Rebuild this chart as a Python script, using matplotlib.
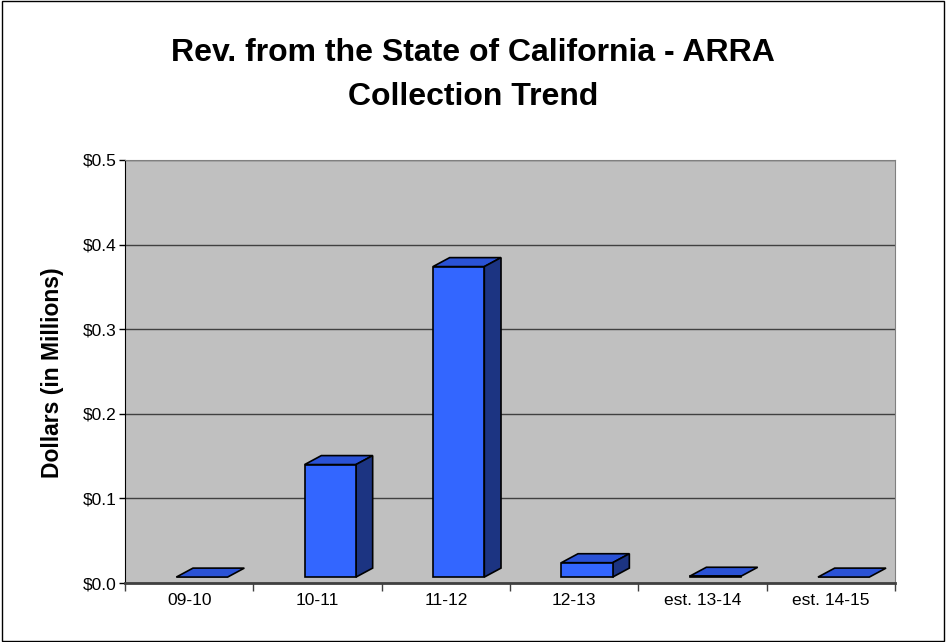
import matplotlib.pyplot as plt
from matplotlib.patches import Polygon, Rectangle
from matplotlib.ticker import FuncFormatter, MultipleLocator

plt.rcParams['font.family'] = ['Liberation Sans', 'DejaVu Sans']

# data (millions of dollars)
categories = ['09-10', '10-11', '11-12', '12-13', 'est. 13-14', 'est. 14-15']
values = [0.0, 0.133, 0.367, 0.017, 0.001, 0.0]

front_color = '#3366FF'
top_color = '#2A52D6'
side_color = '#1C3482'
wall_color = '#C0C0C0'

fig = plt.figure(figsize=(9.46, 6.42), dpi=100)
ax = fig.add_axes([0.1321, 0.0919, 0.8140, 0.6589])
ax.set_facecolor(wall_color)

n = len(categories)
ax.set_xlim(0, n)
ax.set_ylim(0, 0.5)

# 3d look: front face, top and side
floor = 0.007
left_off, width = -0.10, 0.40
dx, dy = 0.13, 0.0106
for i, v in enumerate(values):
    c = i + 0.5
    x0 = c + left_off
    x1 = x0 + width
    y0 = floor
    y1 = floor + v
    top = Polygon([(x0, y1), (x1, y1), (x1 + dx, y1 + dy), (x0 + dx, y1 + dy)],
                  closed=True, facecolor=top_color, edgecolor='black', lw=1.2, zorder=3)
    ax.add_patch(top)
    if v > 0.003:
        front = Rectangle((x0, y0), width, v, facecolor=front_color,
                          edgecolor='black', lw=1.2, zorder=3)
        side = Polygon([(x1, y0), (x1 + dx, y0 + dy), (x1 + dx, y1 + dy), (x1, y1)],
                       closed=True, facecolor=side_color, edgecolor='black', lw=1.2, zorder=3)
        ax.add_patch(side)
        ax.add_patch(front)
    elif v > 0:
        front = Rectangle((x0, y0), width, v, facecolor=front_color,
                          edgecolor='black', lw=1.2, zorder=3)
        ax.add_patch(front)

# gridlines
ax.yaxis.set_major_locator(MultipleLocator(0.1))
ax.yaxis.grid(True, color='#404040', lw=1.0)
ax.set_axisbelow(True)
ax.yaxis.set_major_formatter(FuncFormatter(lambda y, p: f'${y:.1f}'))

ax.set_xticks(range(n + 1))
ax.set_xticklabels([])
ax.set_xticks([i + 0.5 for i in range(n)], minor=True)
ax.set_xticklabels(categories, minor=True)
ax.tick_params(axis='x', which='minor', length=0, labelsize=12.5, pad=7)
ax.tick_params(axis='x', which='major', length=6, width=1, direction='out', color='#404040')
ax.tick_params(axis='y', length=4, width=1, direction='out', labelsize=12.5, pad=2)

ax.spines['top'].set_color('#808080')
ax.spines['right'].set_color('#808080')
ax.spines['left'].set_color('black')
ax.spines['bottom'].set_color('#404040')
ax.spines['bottom'].set_linewidth(2)

ax.set_ylabel('Dollars (in Millions)', fontsize=16.5, fontweight='bold')
ax.yaxis.set_label_coords(-0.079, 0.496)

fig.text(0.5, 0.8835, 'Rev. from the State of California - ARRA\nCollection Trend',
         ha='center', va='center', fontsize=23, fontweight='bold', linespacing=1.6)

# outer border
fig.add_artist(Rectangle((0.002, 0.002), 0.996, 0.996, transform=fig.transFigure,
                         fill=False, edgecolor='black', lw=1))

fig.savefig('out.png', dpi=100)
